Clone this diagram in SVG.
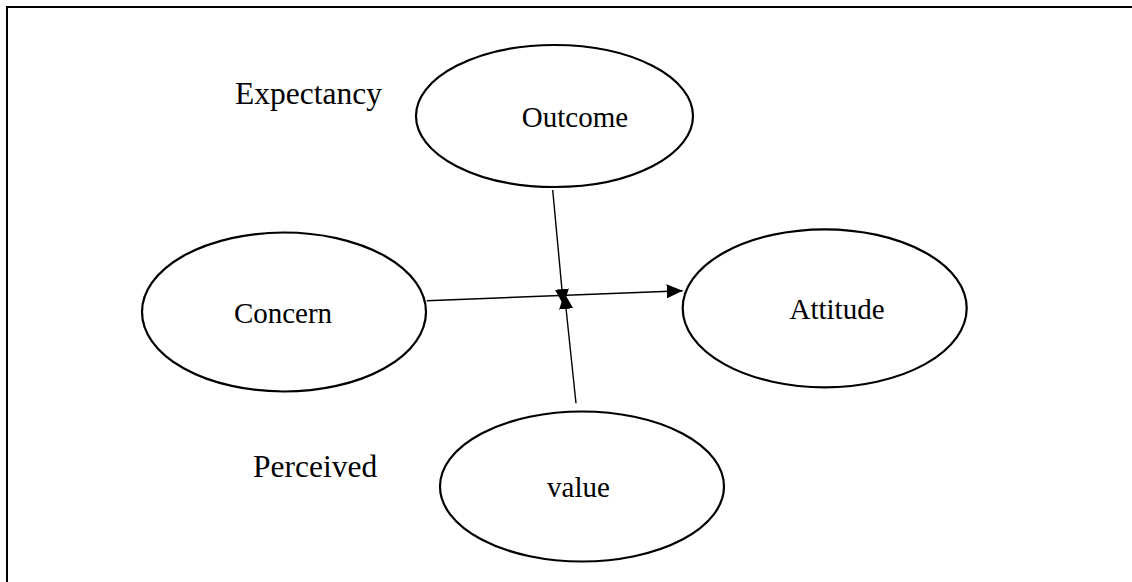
<svg xmlns="http://www.w3.org/2000/svg" width="1132" height="582" viewBox="0 0 1132 582">
  <defs>
    <style>
      .node { fill: #ffffff; stroke: #000000; stroke-width: 2.2; }
      .lbl { font-family: "Liberation Serif", "Times New Roman", serif; font-size: 29px; fill: #000000; text-anchor: middle; }
      .side { font-family: "Liberation Serif", "Times New Roman", serif; font-size: 31.5px; fill: #000000; }
      .edge { stroke: #000000; stroke-width: 1.4; fill: none; marker-end: url(#head); }
      .frame { stroke: #000000; stroke-width: 2; fill: none; }
    </style>
    <marker id="head" markerUnits="userSpaceOnUse" markerWidth="16" markerHeight="14" refX="16" refY="7" orient="auto">
      <path d="M0,0 L16,7 L0,14 Z" fill="#000000"/>
    </marker>
  </defs>

  <rect width="1132" height="582" fill="#ffffff"/>

  <!-- open frame: top and left edges -->
  <path class="frame" d="M7,582 V7 H1132"/>

  <!-- side labels -->
  <text class="side" x="235" y="104">Expectancy</text>
  <text class="side" x="253" y="477">Perceived</text>

  <g id="outcome">
    <ellipse class="node" cx="554.5" cy="116" rx="138.5" ry="71"/>
    <text class="lbl" x="575" y="127">Outcome</text>
  </g>

  <g id="concern">
    <ellipse class="node" cx="284" cy="312" rx="142" ry="79.5"/>
    <text class="lbl" x="283" y="323">Concern</text>
  </g>

  <g id="attitude">
    <ellipse class="node" cx="824.7" cy="308.3" rx="142" ry="79"/>
    <text class="lbl" x="837" y="319">Attitude</text>
  </g>

  <g id="value">
    <ellipse class="node" cx="582" cy="486.5" rx="142" ry="75"/>
    <text class="lbl" x="578.5" y="497">value</text>
  </g>

  <g id="connectors">
    <line class="edge" x1="426.7" y1="300.7" x2="682.7" y2="290.7"/>
    <line class="edge" x1="552.7" y1="190" x2="563.4" y2="305"/>
    <line class="edge" x1="576" y1="403.3" x2="564.4" y2="293"/>
  </g>
</svg>
